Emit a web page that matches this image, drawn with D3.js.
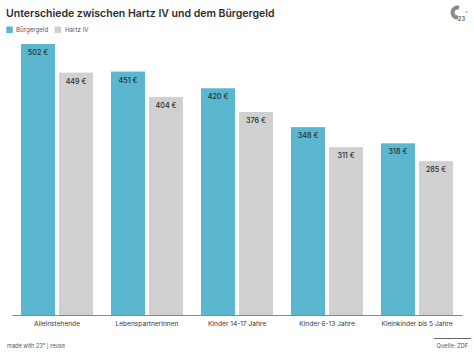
<!DOCTYPE html>
<html><head><meta charset="utf-8">
<script src="https://cdn.jsdelivr.net/npm/d3@7/dist/d3.min.js"></script>
<style>html,body{margin:0;padding:0;background:#fff}svg{display:block}text{font-family:Inter,"Noto Sans",sans-serif}</style>
</head><body><svg id="c" width="474" height="355"></svg>
<script>
const categories = ["Alleinstehende","LebenspartnerInnen","Kinder 14-17 Jahre","Kinder 6-13 Jahre","Kleinkinder bis 5 Jahre"];
const seriesNames = ["Bürgergeld","Hartz IV"];
const buergergeld = [502,451,420,348,318];
const hartz = [449,404,376,311,285];
const colors = ["#5ab7cf","#d0d0d0"];
const title = "Unterschiede zwischen Hartz IV und dem Bürgergeld";

const svg = d3.select("#c");
const ink = "#2b2b2b";
const x0 = d3.scaleBand().domain(categories).range([12,462]);
const x1 = d3.scaleBand().domain(seriesNames).range([0,72]).paddingInner(0.105);
const y = d3.scaleLinear().domain([0,502]).range([315,44]);

svg.append("text").attr("x",6).attr("y",17).attr("font-size",10.5).attr("font-weight",600).attr("fill",ink).text(title);

// legend
const leg = [[6.3,seriesNames[0],colors[0],16],[54.5,seriesNames[1],colors[1],65]];
leg.forEach(([lx,t,c,tx])=>{
  svg.append("rect").attr("x",lx).attr("y",26.5).attr("width",6.5).attr("height",6.5).attr("fill",c);
  svg.append("text").attr("x",tx).attr("y",32).attr("font-size",6.2).attr("fill","#555").text(t);
});

const groups = svg.selectAll(".g").data(categories).join("g")
  .attr("transform",d=>`translate(${x0(d)+x0.bandwidth()/2-36},0)`);
[buergergeld,hartz].forEach((vals,s)=>{
  groups.append("rect")
    .attr("x",x1(seriesNames[s])).attr("width",x1.bandwidth())
    .attr("y",(d,i)=>y(vals[i])).attr("height",(d,i)=>315-y(vals[i]))
    .attr("fill",colors[s]);
  groups.append("text")
    .attr("x",x1(seriesNames[s])+x1.bandwidth()/2).attr("y",(d,i)=>y(vals[i])+11)
    .attr("text-anchor","middle").attr("font-size",7.2).attr("font-weight",500).attr("fill",ink)
    .text((d,i)=>vals[i]+" €");
});

svg.append("g").attr("transform","translate(0,315)").call(d3.axisBottom(x0).tickSize(0).tickPadding(6))
  .call(g=>{
    g.select(".domain").attr("stroke","#888").attr("stroke-width",1);
    g.selectAll("text").attr("font-size",6.6).attr("fill","#333").style("font-family",'Inter,"Noto Sans",sans-serif');
  });

svg.append("text").attr("x",7).attr("y",348).attr("font-size",5.6).attr("fill","#555").text("made with 23° | reuse");
svg.append("line").attr("x1",434).attr("x2",471).attr("y1",338.5).attr("y2",338.5).attr("stroke","#666").attr("stroke-width",1);
svg.append("text").attr("x",468).attr("y",348).attr("text-anchor","end").attr("font-size",5.7).attr("fill","#555").text("Quelle: ZDF");

// logo
const arc = d3.arc().innerRadius(3).outerRadius(7).startAngle(-Math.PI*1.05).endAngle(Math.PI*0.1);
svg.append("path").attr("d",arc()).attr("transform","translate(457.5,12.5)").attr("fill","#8a8a8a");
svg.append("text").attr("x",458).attr("y",20.5).attr("font-size",5.5).attr("font-weight",600).attr("fill","#555").text("23");
svg.append("text").attr("x",465.5).attr("y",15).attr("font-size",4.5).attr("fill","#777").text("°");
</script></body></html>
